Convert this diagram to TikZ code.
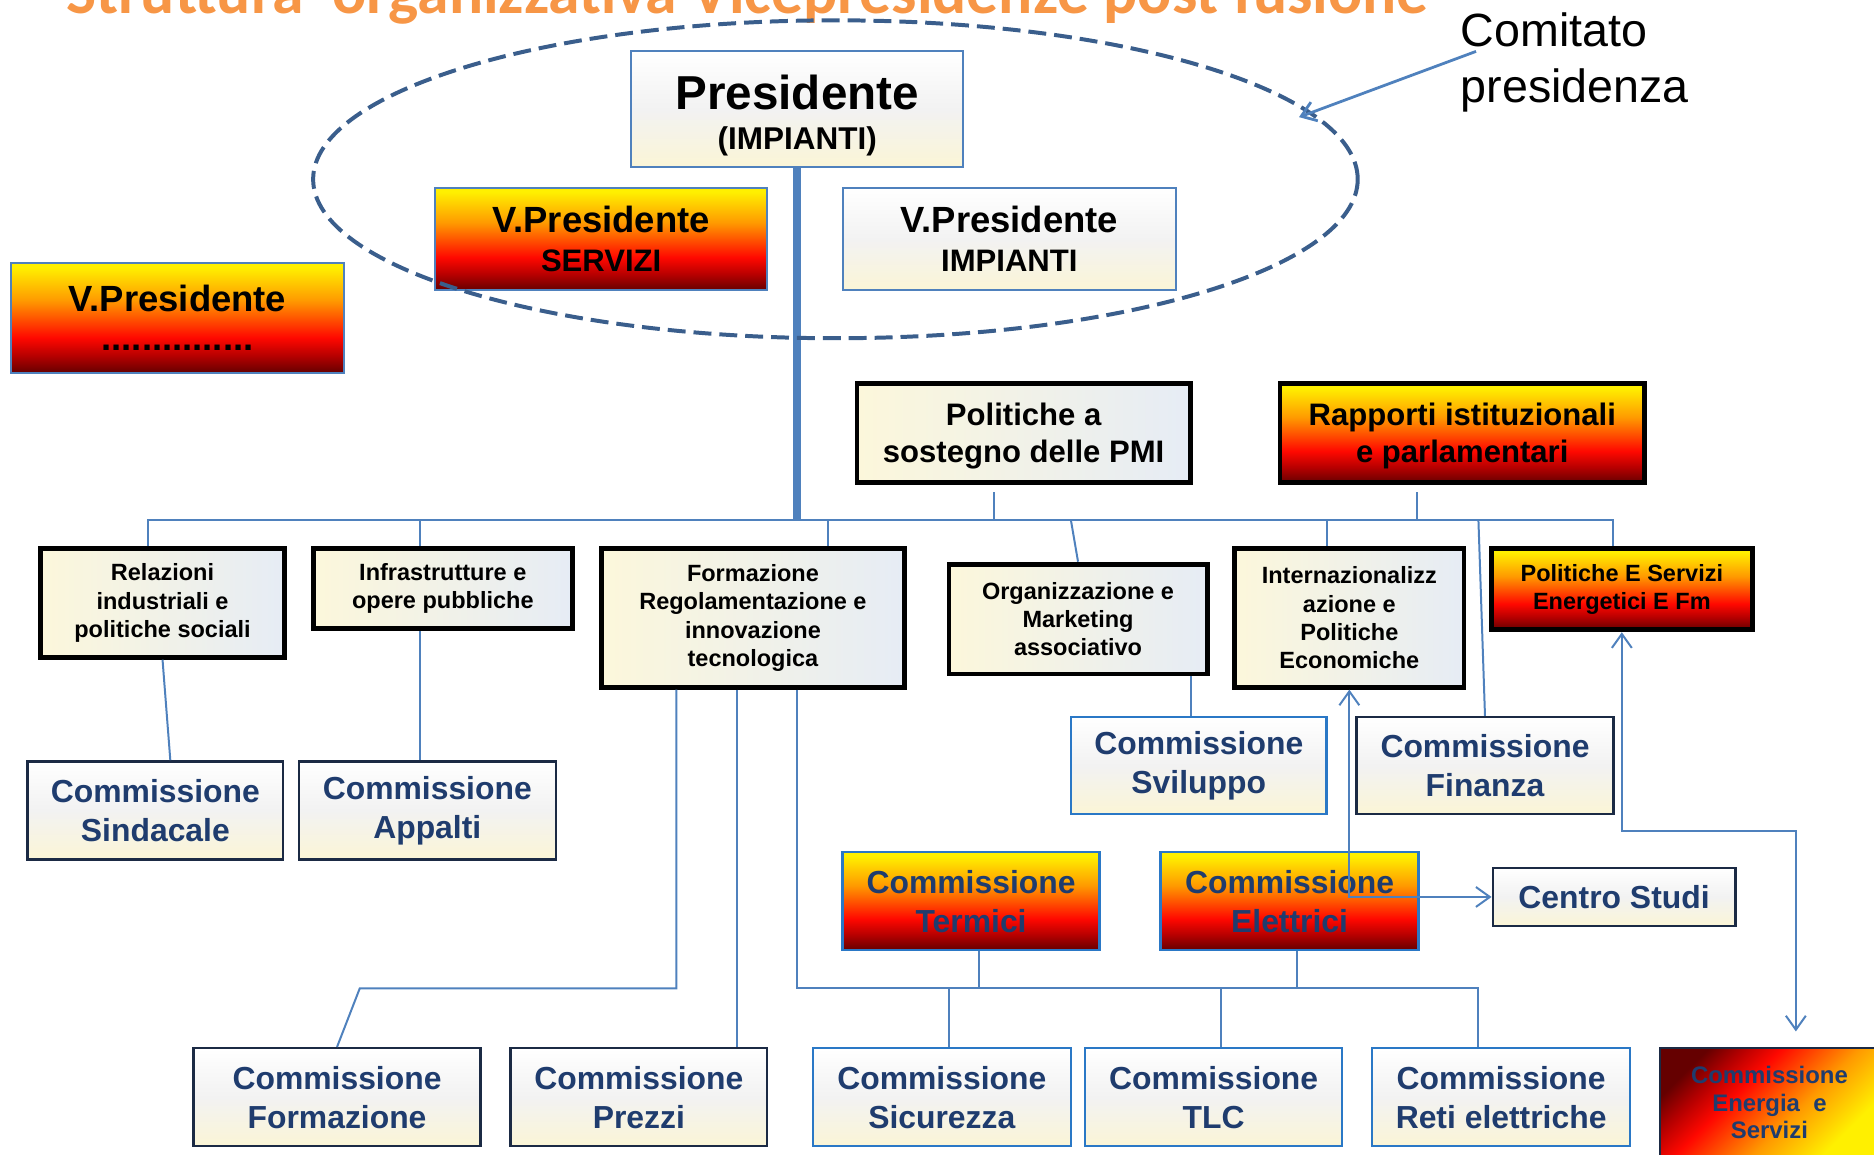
\documentclass[tikz,border=0pt]{standalone}
\usepackage{fontspec}
\setmainfont{Liberation Sans}
\newfontfamily\titlefont{Carlito}
\usepackage{graphicx}
\usetikzlibrary{shapes.geometric,arrows.meta}
\definecolor{linkblue}{HTML}{4F81BD}
\definecolor{ellblue}{HTML}{3A5E8C}
\definecolor{navyt}{HTML}{1F3C6E}
\definecolor{navyb}{HTML}{1B2A44}
\definecolor{brightb}{HTML}{2A78C6}
\definecolor{creamc}{HTML}{FBF5D6}
\definecolor{midgrey}{HTML}{F2F2F2}
\definecolor{l2left}{HTML}{FCF7DB}
\definecolor{l2right}{HTML}{E6ECF5}
\definecolor{fyel}{HTML}{FFF000}
\definecolor{forg}{HTML}{FF9A00}
\definecolor{fred}{HTML}{FF0800}
\definecolor{fdred}{HTML}{B80000}
\definecolor{fdark}{HTML}{650000}
\definecolor{titleor}{HTML}{F79646}
\pgfdeclareverticalshading{fire}{100bp}{color(0bp)=(fdark); color(25bp)=(fdark); color(33bp)=(fdred); color(41bp)=(fred); color(58bp)=(forg); color(73bp)=(fyel); color(100bp)=(fyel)}
\newcommand\bx[7][]{\node[#2,#1,minimum width={(#5-#3)*0.6pt},minimum height={(#6-#4)*0.6pt}] (#7) at ({(#3+#5)/2},{(#4+#6)/2})}
\tikzset{
 every node/.style={inner sep=0pt},
 pbox/.style={draw=linkblue, line width=1pt, top color=white, bottom color=creamc, middle color=midgrey, align=center, font=\bfseries\fontsize{18.3}{19.8}\selectfont},
 fbox/.style={draw=linkblue, line width=1pt, shading=fire, align=center, font=\bfseries\fontsize{18.3}{19.8}\selectfont},
 l2box/.style={draw=black, line width=2.4pt, left color=l2left, right color=l2right, align=center, font=\bfseries\fontsize{11.8}{14.25}\selectfont},
 l2fire/.style={draw=black, line width=2.4pt, shading=fire, align=center, font=\bfseries\fontsize{11.8}{14.25}\selectfont},
 l1box/.style={l2box, font=\bfseries\fontsize{15.6}{18.6}\selectfont},
 l1fire/.style={l2fire, font=\bfseries\fontsize{15.6}{18.6}\selectfont},
 cbox/.style={draw=navyb, line width=1.2pt, top color=white, bottom color=creamc, middle color=midgrey, text=navyt, align=center, font=\bfseries\fontsize{16}{19.6}\selectfont},
 cboxb/.style={cbox, draw=brightb},
 cfire/.style={cbox, draw=brightb, shading=fire},
 ln/.style={draw=linkblue, line width=1pt},
 thickln/.style={draw=linkblue, line width=4pt},
}
\begin{document}
\begin{tikzpicture}[x=0.6pt,y=-0.6pt, >={Straight Barb[length=7pt,width=10pt]}]
\useasboundingbox (0,0) rectangle (1568,966);
% title
\node[anchor=base west, text=titleor] (title) at (55,11) {\resizebox{684pt}{!}{\titlefont\bfseries Struttura\ \ organizzativa Vicepresidenze post fusione}};
% top boxes
\bx{pbox}{528}{43}{806}{140}{pres}{\fontsize{23.9}{22.5}\selectfont\rule{0pt}{23.4pt}Presidente\\{\fontsize{15.8}{22.5}\selectfont (IMPIANTI)}};
\bx{fbox}{364}{157}{642}{243}{vps}{V.Presidente\\{\fontsize{15.6}{19.8}\selectfont SERVIZI}};
\bx{pbox}{705}{157}{984}{243}{vpi}{V.Presidente\\{\fontsize{15.6}{19.8}\selectfont IMPIANTI}};
\bx{fbox}{9}{220}{288}{312}{vpd}{\fontsize{18.3}{22.8}\selectfont V.Presidente\\...............};
\node[font=\fontsize{23.4}{28.2}\selectfont, align=left, anchor=west] (comit) at (1222,52.5) {Comitato\\presidenza};
% level 1
\bx{l1box}{717}{321}{996}{404}{pmi}{\rule{0pt}{14pt}Politiche a\\sostegno delle PMI};
\bx{l1fire}{1071}{321}{1376}{404}{rap}{\rule{0pt}{14pt}Rapporti istituzionali\\e parlamentari};
% level 2
\bx{l2box}{34}{459}{238}{550}{rel}{Relazioni\\industriali e\\politiche sociali};
\bx{l2box}{262}{459}{479}{526}{inf}{Infrastrutture e\\opere pubbliche};
\bx{l2box}{503}{459}{757}{575}{form}{Formazione\\Regolamentazione e\\innovazione\\tecnologica};
\bx{l2box}{794}{472}{1010}{564}{org}{Organizzazione e\\Marketing\\associativo};
\bx{l2box}{1033}{459}{1225}{575}{intl}{Internazionalizz\\azione e\\Politiche\\Economiche};
\bx{l2fire}{1248}{459}{1466}{527}{pes}{Politiche E Servizi\\Energetici E Fm};
% commissions
\bx{cbox}{23}{637}{237}{719}{csin}{Commissione\\Sindacale};
\bx{cbox}{250}{637}{465}{719}{capp}{Commissione\\Appalti};
\bx{cboxb}{896}{600}{1110}{681}{csvi}{Commissione\\Sviluppo};
\bx{cbox}{1135}{600}{1350}{681}{cfin}{Commissione\\Finanza};
\bx{cfire}{705}{713}{920}{795}{cterm}{Commissione\\Termici};
\bx{cfire}{971}{713}{1187}{795}{celet}{Commissione\\Elettrici};
\bx{cbox}{1249}{726}{1452}{775}{cstud}{Centro Studi};
\bx{cbox}{162}{877}{402}{959}{cform}{Commissione\\Formazione};
\bx{cbox}{427}{877}{642}{959}{cprez}{Commissione\\Prezzi};
\bx{cboxb}{680}{877}{896}{959}{csic}{Commissione\\Sicurezza};
\bx{cboxb}{908}{877}{1123}{959}{ctlc}{Commissione\\TLC};
\bx{cboxb}{1148}{877}{1364}{959}{creti}{Commissione\\Reti elettriche};
\bx[shading=fire, shading angle=225, font=\bfseries\fontsize{12}{13.8}\selectfont]{cbox}{1389}{877}{1572}{968}{cener}{Commissione\\Energia~ e\\Servizi};
% connectors
\coordinate (busL) at (124,435);
\coordinate (busR) at (1350,435);
\draw[thickln] (pres.south) -- (pres.south |- busL);
\draw[ln] (busL |- rel.north) -- (busL) -- (busR) -- (busR |- pes.north);
\coordinate (dInf) at (351,435);
\coordinate (dForm) at (693,435);
\coordinate (dPmi) at (832,435);
\coordinate (dRap) at (1186,435);
\coordinate (dOrg) at (896,435);
\coordinate (dIntl) at (1110,435);
\coordinate (dFin) at (1237,435);
\draw[ln] (dInf) -- (dInf |- inf.north);
\draw[ln] (dForm) -- (dForm |- form.north);
\draw[ln, shorten >=3.6pt] (dPmi) -- (dPmi |- pmi.south);
\draw[ln, shorten >=3.6pt] (dRap) -- (dRap |- rap.south);
\draw[ln] (dOrg) -- (org.north);
\draw[ln] (dIntl) -- (dIntl |- intl.north);
\draw[ln] (dFin) -- (cfin.north);
\draw[ln] (rel.south) -- ([xshift=7.5pt]csin.north);
\draw[ln] (dInf |- inf.south) -- (dInf |- capp.north);
\coordinate (xOrg) at (996.5,0);
\draw[ln] (xOrg |- org.south) -- (xOrg |- csvi.north);
\draw[ln, <->] (intl.south) |- (cstud.west);
\coordinate (eTurn) at (1502.6,695);
\draw[ln, <->, shorten >=7.8pt] (pes.south) |- (eTurn) -- (eTurn |- cener.north);
\coordinate (f1) at (566,827);
\coordinate (f1b) at (301,827);
\draw[ln] (f1 |- form.south) -- (f1) -- (f1b) -- (cform.north);
\coordinate (f2) at (617,0);
\draw[ln] (f2 |- form.south) -- (f2 |- cprez.north);
\coordinate (f3) at (667,827);
\coordinate (b2R) at (1237,827);
\draw[ln] (f3 |- form.south) -- (f3) -- (b2R) -- (b2R |- creti.north);
\coordinate (t1) at (819,827);
\coordinate (e1) at (1085,827);
\draw[ln] (t1 |- cterm.south) -- (t1);
\draw[ln] (e1 |- celet.south) -- (e1);
\coordinate (s1) at (793.7,827);
\coordinate (s2) at (1021.6,827);
\draw[ln] (s1) -- (s1 |- csic.north);
\draw[ln] (s2) -- (s2 |- ctlc.north);
% ellipse
\node[ellipse, draw=ellblue, line width=2pt, dash pattern=on 9pt off 4pt, minimum width=524.4pt, minimum height=159.6pt] (ell) at (699,150) {};
\coordinate (cmS) at (1235,43);
\draw[ln, line width=1.4pt, ->, shorten >=-7pt] (cmS) -- (ell.8.5);
\end{tikzpicture}
\end{document}
